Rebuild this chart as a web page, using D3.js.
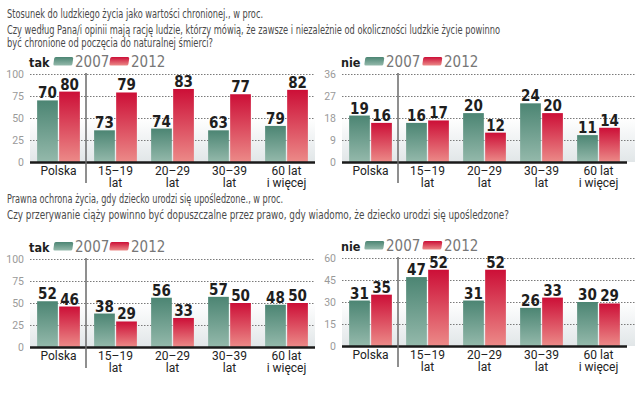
<!DOCTYPE html>
<html>
<head>
<meta charset="utf-8">
<script src="https://cdn.jsdelivr.net/npm/d3@7"></script>
<style>
  body { margin: 0; background: #fff; }
  svg { display: block; }
</style>
</head>
<body>
<div id="chart"></div>
<script>
// categories and series
const categories = ["Polska", "15–19 lat", "20–29 lat", "30–39 lat", "60 lat i więcej"];
const categoryLines = [["Polska"], ["15–19", "lat"], ["20–29", "lat"], ["30–39", "lat"], ["60 lat", "i więcej"]];
const years = ["2007", "2012"];

// block 1: "tak" — bar heights as drawn in the original, labels as printed
const lifeTak2007 = [70, 36, 38, 36, 41];
const lifeTak2007Labels = [70, 73, 74, 63, 79];
const lifeTak2012 = [80, 79, 83, 77, 82];
const lifeNie2007 = [19, 16, 20, 24, 11];
const lifeNie2012 = [16, 17, 12, 20, 14];

// block 2
const disTak2007 = [52, 38, 56, 57, 48];
const disTak2012 = [46, 29, 33, 50, 50];
const disNie2007 = [31, 47, 31, 26, 30];
const disNie2012 = [35, 52, 52, 33, 29];

const ticksTak = [0, 25, 50, 75, 100];
const ticksLifeNie = [0, 9, 18, 27, 36];
const ticksDisNie = [0, 15, 30, 45, 60];

const titles1 = [
  "Stosunek do ludzkiego życia jako wartości chronionej., w proc.",
  "Czy według Pana/i opinii mają rację ludzie, którzy mówią, że zawsze i niezależnie od okoliczności ludzkie życie powinno",
  "być chronione od poczęcia do naturalnej śmierci?"
];
const titles2 = [
  "Prawna ochrona życia, gdy dziecko urodzi się upośledzone., w proc.",
  "Czy przerywanie ciąży powinno być dopuszczalne przez prawo, gdy wiadomo, że dziecko urodzi się upośledzone?"
];

const width = 637, height = 398;
const svg = d3.select("#chart").append("svg")
    .attr("width", width)
    .attr("height", height);

const defs = svg.append("defs");
function vGrad(id, top, bottom) {
  const g = defs.append("linearGradient").attr("id", id)
      .attr("x1", 0).attr("y1", 0).attr("x2", 0).attr("y2", 1);
  g.append("stop").attr("offset", "0%").attr("stop-color", top);
  g.append("stop").attr("offset", "100%").attr("stop-color", bottom);
}
vGrad("g2007", "#4c8573", "#94b9ab");
vGrad("g2012", "#cc0f37", "#ec8a88");
vGrad("gbg", "#ffffff", "#e1e6e8");

const yearFill = {"2007": "url(#g2007)", "2012": "url(#g2012)"};
const titleFont = "'Liberation Sans Narrow', 'DejaVu Sans Condensed', sans-serif";
const boldFont = "'DejaVu Sans Condensed', 'Liberation Sans Narrow', sans-serif";

// header texts (condensed face, squeezed to the measured widths)
function titleBlock(lines, ys, lens) {
  svg.append("g").selectAll("text")
    .data(lines)
    .join("text")
      .attr("x", 7)
      .attr("y", (d, i) => ys[i])
      .attr("textLength", (d, i) => lens[i])
      .attr("lengthAdjust", "spacingAndGlyphs")
      .attr("font-family", titleFont)
      .attr("font-size", 12)
      .attr("fill", "#4a4a4a")
      .text(d => d);
}
titleBlock(titles1, [18, 33.5, 47], [256, 493, 206]);
titleBlock(titles2, [203, 218.5], [276, 502]);

function panel(opt) {
  const g = svg.append("g");
  const plotH = 88;
  const x = d3.scaleBand().domain(categories)
      .range([opt.x0, opt.x0 + 285]).paddingInner(0.25).paddingOuter(0.125);
  const xs = d3.scaleBand().domain(years).range([0, x.bandwidth()]).paddingInner(0.06);
  const y = d3.scaleLinear().domain([0, opt.ticks[opt.ticks.length - 1]])
      .range([opt.y0 + plotH, opt.y0]);
  const gridEnd = opt.x0 + opt.gridW;

  // background wash
  g.append("rect")
      .attr("x", opt.x0).attr("y", y(opt.ticks[2]))
      .attr("width", opt.gridW).attr("height", y(0) - y(opt.ticks[2]))
      .attr("fill", "url(#gbg)");

  // grid
  g.append("g").selectAll("line")
    .data(opt.ticks.slice(1))
    .join("line")
      .attr("x1", opt.x0).attr("x2", gridEnd)
      .attr("y1", d => Math.round(y(d)) + 0.5).attr("y2", d => Math.round(y(d)) + 0.5)
      .attr("stroke", "#7a7a7a").attr("stroke-width", 1)
      .attr("stroke-dasharray", "1.5,1.5");

  // tick labels
  g.append("g").selectAll("text")
    .data(opt.ticks)
    .join("text")
      .attr("x", opt.x0 - 6)
      .attr("y", d => y(d) + 4)
      .attr("text-anchor", "end")
      .attr("font-family", "Roboto, sans-serif")
      .attr("font-size", 10.5)
      .attr("fill", "#9a9a9a")
      .text(d => d);

  // bars
  const rows = categories.map((c, i) => ({c, i}));
  const grp = g.append("g").selectAll("g")
    .data(rows)
    .join("g")
      .attr("transform", d => `translate(${x(d.c)},0)`);

  grp.selectAll("rect")
    .data(d => years.map((yr, k) => ({yr, v: opt.series[k][d.i]})))
    .join("rect")
      .attr("x", d => xs(d.yr))
      .attr("width", xs.bandwidth())
      .attr("y", d => y(d.v))
      .attr("height", d => y(0) - y(d.v))
      .attr("fill", d => yearFill[d.yr]);

  grp.selectAll("text.val")
    .data(d => years.map((yr, k) => ({yr, v: opt.series[k][d.i], lab: opt.labels[k][d.i]})))
    .join("text")
      .attr("class", "val")
      .attr("x", d => xs(d.yr) + xs.bandwidth() / 2)
      .attr("y", d => y(d.v) - 2)
      .attr("text-anchor", "middle")
      .attr("font-family", boldFont)
      .attr("font-weight", "bold")
      .attr("font-size", 15)
      .attr("fill", "#1e1e1e")
      .text(d => d.lab);

  // baseline
  g.append("line")
      .attr("x1", opt.x0).attr("x2", opt.x0 + 285)
      .attr("y1", y(0) + 0.5).attr("y2", y(0) + 0.5)
      .attr("stroke", "#1a1a1a").attr("stroke-width", 2.5);

  // separator between Polska and age groups
  const sepX = x(categories[1]) - x.step() * x.paddingInner() / 2 - 1;
  g.append("line")
      .attr("x1", sepX).attr("x2", sepX)
      .attr("y1", opt.y0 - 1).attr("y2", y(0) + 21)
      .attr("stroke", "#6a6a6a").attr("stroke-width", 1.5);

  // category labels
  g.append("g").selectAll("text")
    .data(rows)
    .join("text")
      .attr("x", d => x(d.c) + x.bandwidth() / 2)
      .attr("y", y(0) + 12.5)
      .attr("text-anchor", "middle")
      .attr("font-family", "Roboto, sans-serif")
      .attr("font-size", 12)
      .attr("fill", "#222")
      .selectAll("tspan")
      .data(d => categoryLines[d.i])
      .join("tspan")
        .attr("x", function () { return d3.select(this.parentNode).attr("x"); })
        .attr("dy", (d, i) => i === 0 ? 0 : 12)
        .text(d => d);

  // legend
  const lg = g.append("g").attr("transform", `translate(${opt.x0 - 1},${opt.y0 - 7})`);
  lg.append("text")
      .attr("x", 0).attr("y", 0)
      .attr("font-family", boldFont)
      .attr("font-weight", "bold")
      .attr("font-size", 12.5)
      .attr("fill", "#1e1e1e")
      .text(opt.name);
  const lx = opt.name === "tak" ? [24, 80] : [23, 81];
  years.forEach((yr, k) => {
    lg.append("rect")
        .attr("x", lx[k]).attr("y", -10)
        .attr("width", 19).attr("height", 8.5)
        .attr("rx", 1.5)
        .attr("transform", `skewX(-8)`)
        .attr("fill", yearFill[yr]);
    lg.append("text")
        .attr("x", lx[k] + 22).attr("y", 0)
        .attr("font-family", titleFont)
        .attr("font-size", 15)
        .attr("fill", "#777")
        .text(yr);
  });
}

panel({name: "tak", x0: 30, y0: 74, gridW: 285, ticks: ticksTak,
       series: [lifeTak2007, lifeTak2012], labels: [lifeTak2007Labels, lifeTak2012]});
panel({name: "nie", x0: 342, y0: 74, gridW: 293, ticks: ticksLifeNie,
       series: [lifeNie2007, lifeNie2012], labels: [lifeNie2007, lifeNie2012]});
panel({name: "tak", x0: 30, y0: 259, gridW: 285, ticks: ticksTak,
       series: [disTak2007, disTak2012], labels: [disTak2007, disTak2012]});
panel({name: "nie", x0: 342, y0: 258, gridW: 293, ticks: ticksDisNie,
       series: [disNie2007, disNie2012], labels: [disNie2007, disNie2012]});
</script>
</body>
</html>
